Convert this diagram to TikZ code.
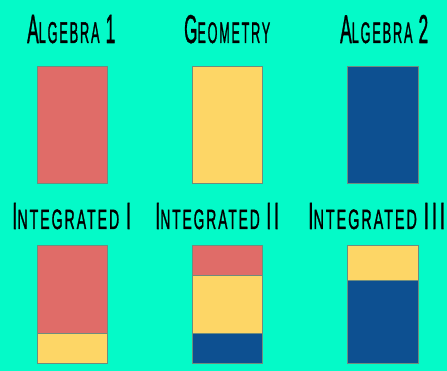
\documentclass[tikz,border=0pt]{standalone}
\usepackage{fontspec}
\setmainfont[LetterSpace=14,FakeBold=1.6]{Liberation Sans}
\definecolor{bgc}{RGB}{4,250,200}
\definecolor{redc}{RGB}{224,108,104}
\definecolor{yelc}{RGB}{253,214,102}
\definecolor{bluc}{RGB}{13,80,145}
\definecolor{edgec}{RGB}{110,140,125}
\newcommand{\lgcap}[1]{{\fontsize{10}{10}\selectfont #1}}
\newcommand{\smlcap}[1]{{\fontsize{7.4}{7.4}\selectfont #1}}
\newcommand{\wgap}{\hspace{3.5pt}}
\begin{document}
\begin{tikzpicture}[x=1pt,y=-1pt,
  seg/.style={draw=edgec,line width=0.7pt},
  lbl/.style={anchor=base west,inner sep=0pt,text=black}]
\fill[bgc] (0,0) rectangle (447,371);
\useasboundingbox (0,0) rectangle (447,371);
% titles row 1
\node[lbl] (t1) at (27,43) {\resizebox{88pt}{28pt}{\lgcap{A}\smlcap{LGEBRA}\wgap\lgcap{1}}};
\node[lbl] (t2) at (184,43) {\resizebox{86pt}{28pt}{\lgcap{G}\smlcap{EOMETRY}}};
\node[lbl] (t3) at (340,43) {\resizebox{88pt}{28pt}{\lgcap{A}\smlcap{LGEBRA}\wgap\lgcap{2}}};
% titles row 2
\node[lbl] (t4) at (12,229) {\resizebox{119pt}{26pt}{\lgcap{I}\smlcap{NTEGRATED}\wgap\lgcap{I}}};
\node[lbl] (t5) at (155,229) {\resizebox{124pt}{26pt}{\lgcap{I}\smlcap{NTEGRATED}\wgap\lgcap{II}}};
\node[lbl] (t6) at (308,229) {\resizebox{137pt}{26pt}{\lgcap{I}\smlcap{NTEGRATED}\wgap\lgcap{III}}};
% row 1 boxes
\path[seg,fill=redc] (37,66) rectangle (107,183);
\path[seg,fill=yelc] (192,66) rectangle (262,183);
\path[seg,fill=bluc] (347,66) rectangle (418,183);
% Integrated I
\path[seg,fill=redc] (37,245) rectangle (107,333);
\path[seg,fill=yelc] (37,333) rectangle (107,363);
% Integrated II
\path[seg,fill=redc] (192,245) rectangle (262,275);
\path[seg,fill=yelc] (192,275) rectangle (262,333);
\path[seg,fill=bluc] (192,333) rectangle (262,363);
% Integrated III
\path[seg,fill=yelc] (347,245) rectangle (418,280);
\path[seg,fill=bluc] (347,280) rectangle (418,363);
\end{tikzpicture}
\end{document}
